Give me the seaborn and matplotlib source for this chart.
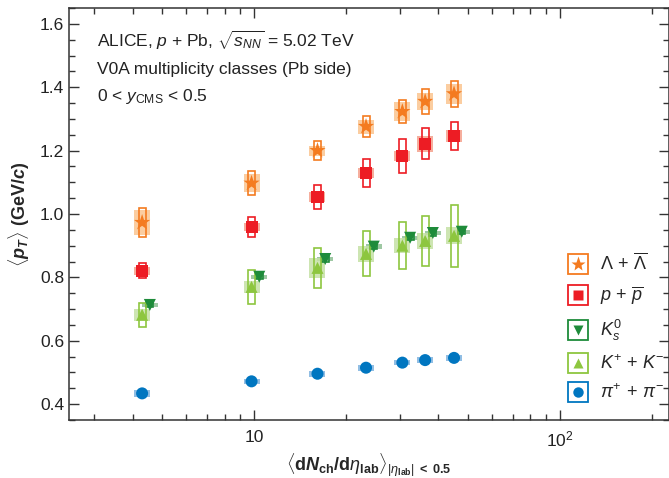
import numpy as np
import pandas as pd
import matplotlib
matplotlib.use("Agg")
import matplotlib.pyplot as plt
from matplotlib.patches import Rectangle
from matplotlib.lines import Line2D
from matplotlib.ticker import MultipleLocator, LogLocator, FixedLocator, NullFormatter
import seaborn as sns

# ---------------- data ----------------
dndeta = [4.3, 9.8, 16.1, 23.2, 30.5, 36.2, 45.0]

lam_val = [0.973, 1.097, 1.200, 1.276, 1.323, 1.355, 1.379]
lam_sys = [0.047, 0.038, 0.029, 0.034, 0.036, 0.038, 0.042]
lam_unc = [0.040, 0.028, 0.016, 0.022, 0.031, 0.028, 0.032]

p_val = [0.821, 0.960, 1.053, 1.130, 1.184, 1.221, 1.246]
p_sys = [0.024, 0.032, 0.037, 0.045, 0.054, 0.049, 0.044]
p_unc = [0.013, 0.013, 0.016, 0.015, 0.016, 0.024, 0.019]

k0_val = [0.713, 0.802, 0.858, 0.897, 0.925, 0.940, 0.944]
k0_sys = [0.008, 0.008, 0.008, 0.008, 0.008, 0.008, 0.008]
k0_unc = [0.006, 0.007, 0.007, 0.007, 0.007, 0.007, 0.007]

kch_val = [0.682, 0.770, 0.830, 0.874, 0.900, 0.915, 0.931]
kch_sys = [0.037, 0.054, 0.064, 0.071, 0.074, 0.080, 0.097]
kch_unc = [0.019, 0.020, 0.032, 0.024, 0.024, 0.024, 0.027]

pi_val = [0.434, 0.472, 0.496, 0.515, 0.531, 0.539, 0.546]
pi_sys = [0.006, 0.006, 0.006, 0.006, 0.006, 0.006, 0.006]
pi_unc = [0.010, 0.008, 0.010, 0.009, 0.009, 0.009, 0.009]

species = ["lam", "p", "k0", "kch", "pi"]
labels = [r"$\Lambda\,+\,\overline{\Lambda}$", r"$p\,+\,\overline{p}$", r"$K^{0}_{s}$",
          r"$K^{+}\,+\,K^{-}$", r"$\pi^{+}\,+\,\pi^{-}$"]

# ---------------- style ----------------
line_col = {"lam": "#F47B20", "p": "#ED1C24", "k0": "#1E8B3A", "kch": "#8DC63F", "pi": "#0076C0"}
fill_col = {"lam": "#FBC58F", "p": "#F5A08C", "k0": "#8DBF93", "kch": "#C5E1A5", "pi": "#7EB3E0"}
marker = {"lam": "*", "p": "s", "k0": "v", "kch": "^", "pi": "o"}
msize = {"lam": 150, "p": 75, "k0": 75, "kch": 75, "pi": 75}
xshift = {"lam": 1.0, "p": 1.0, "k0": 1.06, "kch": 1.0, "pi": 1.0}

vals = {"lam": (lam_val, lam_sys, lam_unc), "p": (p_val, p_sys, p_unc),
        "k0": (k0_val, k0_sys, k0_unc), "kch": (kch_val, kch_sys, kch_unc),
        "pi": (pi_val, pi_sys, pi_unc)}

FONT = "Liberation Sans"
sns.set_style("ticks")
plt.rcParams["font.family"] = [FONT, "DejaVu Sans"]
plt.rcParams["mathtext.fontset"] = "custom"
plt.rcParams["mathtext.rm"] = FONT
plt.rcParams["mathtext.it"] = FONT + ":italic"
plt.rcParams["mathtext.bf"] = FONT + ":bold"
plt.rcParams["mathtext.bfit"] = FONT + ":bold:italic"
plt.rcParams["mathtext.sf"] = FONT

fig = plt.figure(figsize=(6.69, 4.78), dpi=100)
ax = fig.add_axes([69/669, 1-420/478, 1-69/669, (420-8)/478])

rows = []
for s in species:
    v = vals[s][0]
    for x, y in zip(dndeta, v):
        rows.append({"x": x * xshift[s], "y": y, "sp": s})
df = pd.DataFrame(rows)

wide = 10 ** (8 / 306)   # half-width factor of filled boxes
narrow = 10 ** (3.5 / 306)  # half-width of open boxes
for s in species:
    v, sy, un = vals[s]
    for x, y, e1, e2 in zip(dndeta, v, sy, un):
        xc = x * xshift[s]
        ax.add_patch(Rectangle((xc / wide, y - e2), xc * wide - xc / wide, 2 * e2,
                               facecolor=fill_col[s], edgecolor="none", alpha=0.85, zorder=2))
        ax.add_patch(Rectangle((xc / narrow, y - e1), xc * narrow - xc / narrow, 2 * e1,
                               facecolor="none", edgecolor=line_col[s], lw=1.2, zorder=3))

sns.scatterplot(data=df, x="x", y="y", hue="sp", style="sp", size="sp",
                palette=line_col, markers=marker, sizes=msize,
                linewidth=0, legend=False, ax=ax, zorder=4)

ax.set_xscale("log")
ax.set_xlim(2.48, 227)
ax.set_ylim(0.35, 1.65)
ax.xaxis.set_major_locator(FixedLocator([10, 100]))
ax.xaxis.set_major_formatter(matplotlib.ticker.FixedFormatter(["10", r"$10^{2}$"]))
ax.xaxis.set_minor_locator(LogLocator(base=10, subs=np.arange(2, 10)))
ax.xaxis.set_minor_formatter(NullFormatter())
ax.set_yticks(np.arange(0.4, 1.61, 0.2))
ax.set_yticklabels([f"{t:.1f}" for t in np.arange(0.4, 1.61, 0.2)])
ax.yaxis.set_minor_locator(MultipleLocator(0.05))
ax.tick_params(which="both", direction="in", top=True, right=True, colors="#333333",
               labelcolor="#222222", labelsize=12.5)
ax.tick_params(which="major", length=7, width=1)
ax.tick_params(which="minor", length=4, width=1)
ax.tick_params(axis="x", which="major", pad=7)
for sp in ax.spines.values():
    sp.set_color("#333333")
    sp.set_linewidth(1.1)

ax.set_ylabel(r"$\langle \mathbfit{p}_{\mathbfit{T}}\rangle$ (GeV/$\mathbfit{c}$)",
              fontsize=13, fontweight="bold", labelpad=6)
ax.set_xlabel(r"$\langle \mathbf{d}\mathbfit{N}_{\mathbf{ch}}\mathbf{/d}\eta_{\mathbf{lab}}\rangle_{|\eta_{\mathbf{lab}}|\ \mathbf{<\ 0.5}}$",
              fontsize=13, fontweight="bold", labelpad=1)

ax.text(0.047, 0.905, r"ALICE, $p$ + Pb, $\sqrt{s_{NN}}$ = 5.02 TeV", transform=ax.transAxes,
        fontsize=12.5, color="#222222")
ax.text(0.047, 0.84, "V0A multiplicity classes (Pb side)", transform=ax.transAxes,
        fontsize=12.5, color="#222222")
ax.text(0.047, 0.775, r"0 < $y_{\rm CMS}$ < 0.5", transform=ax.transAxes,
        fontsize=12.5, color="#222222")

handles = []
for s in species:
    box = Line2D([], [], marker="s", ms=15, mfc="white", mec=line_col[s], mew=1.3, ls="none")
    mk = Line2D([], [], marker=marker[s], ms=11 if s == "lam" else 7.5, mfc=line_col[s],
                mec="none", ls="none")
    handles.append((box, mk))
ax.legend(handles, labels, loc="upper left", bbox_to_anchor=(0.815, 0.428), frameon=False,
          fontsize=13, labelspacing=0.6, handlelength=1.2, handletextpad=0.6, borderpad=0)

fig.savefig("out.png", dpi=100)
